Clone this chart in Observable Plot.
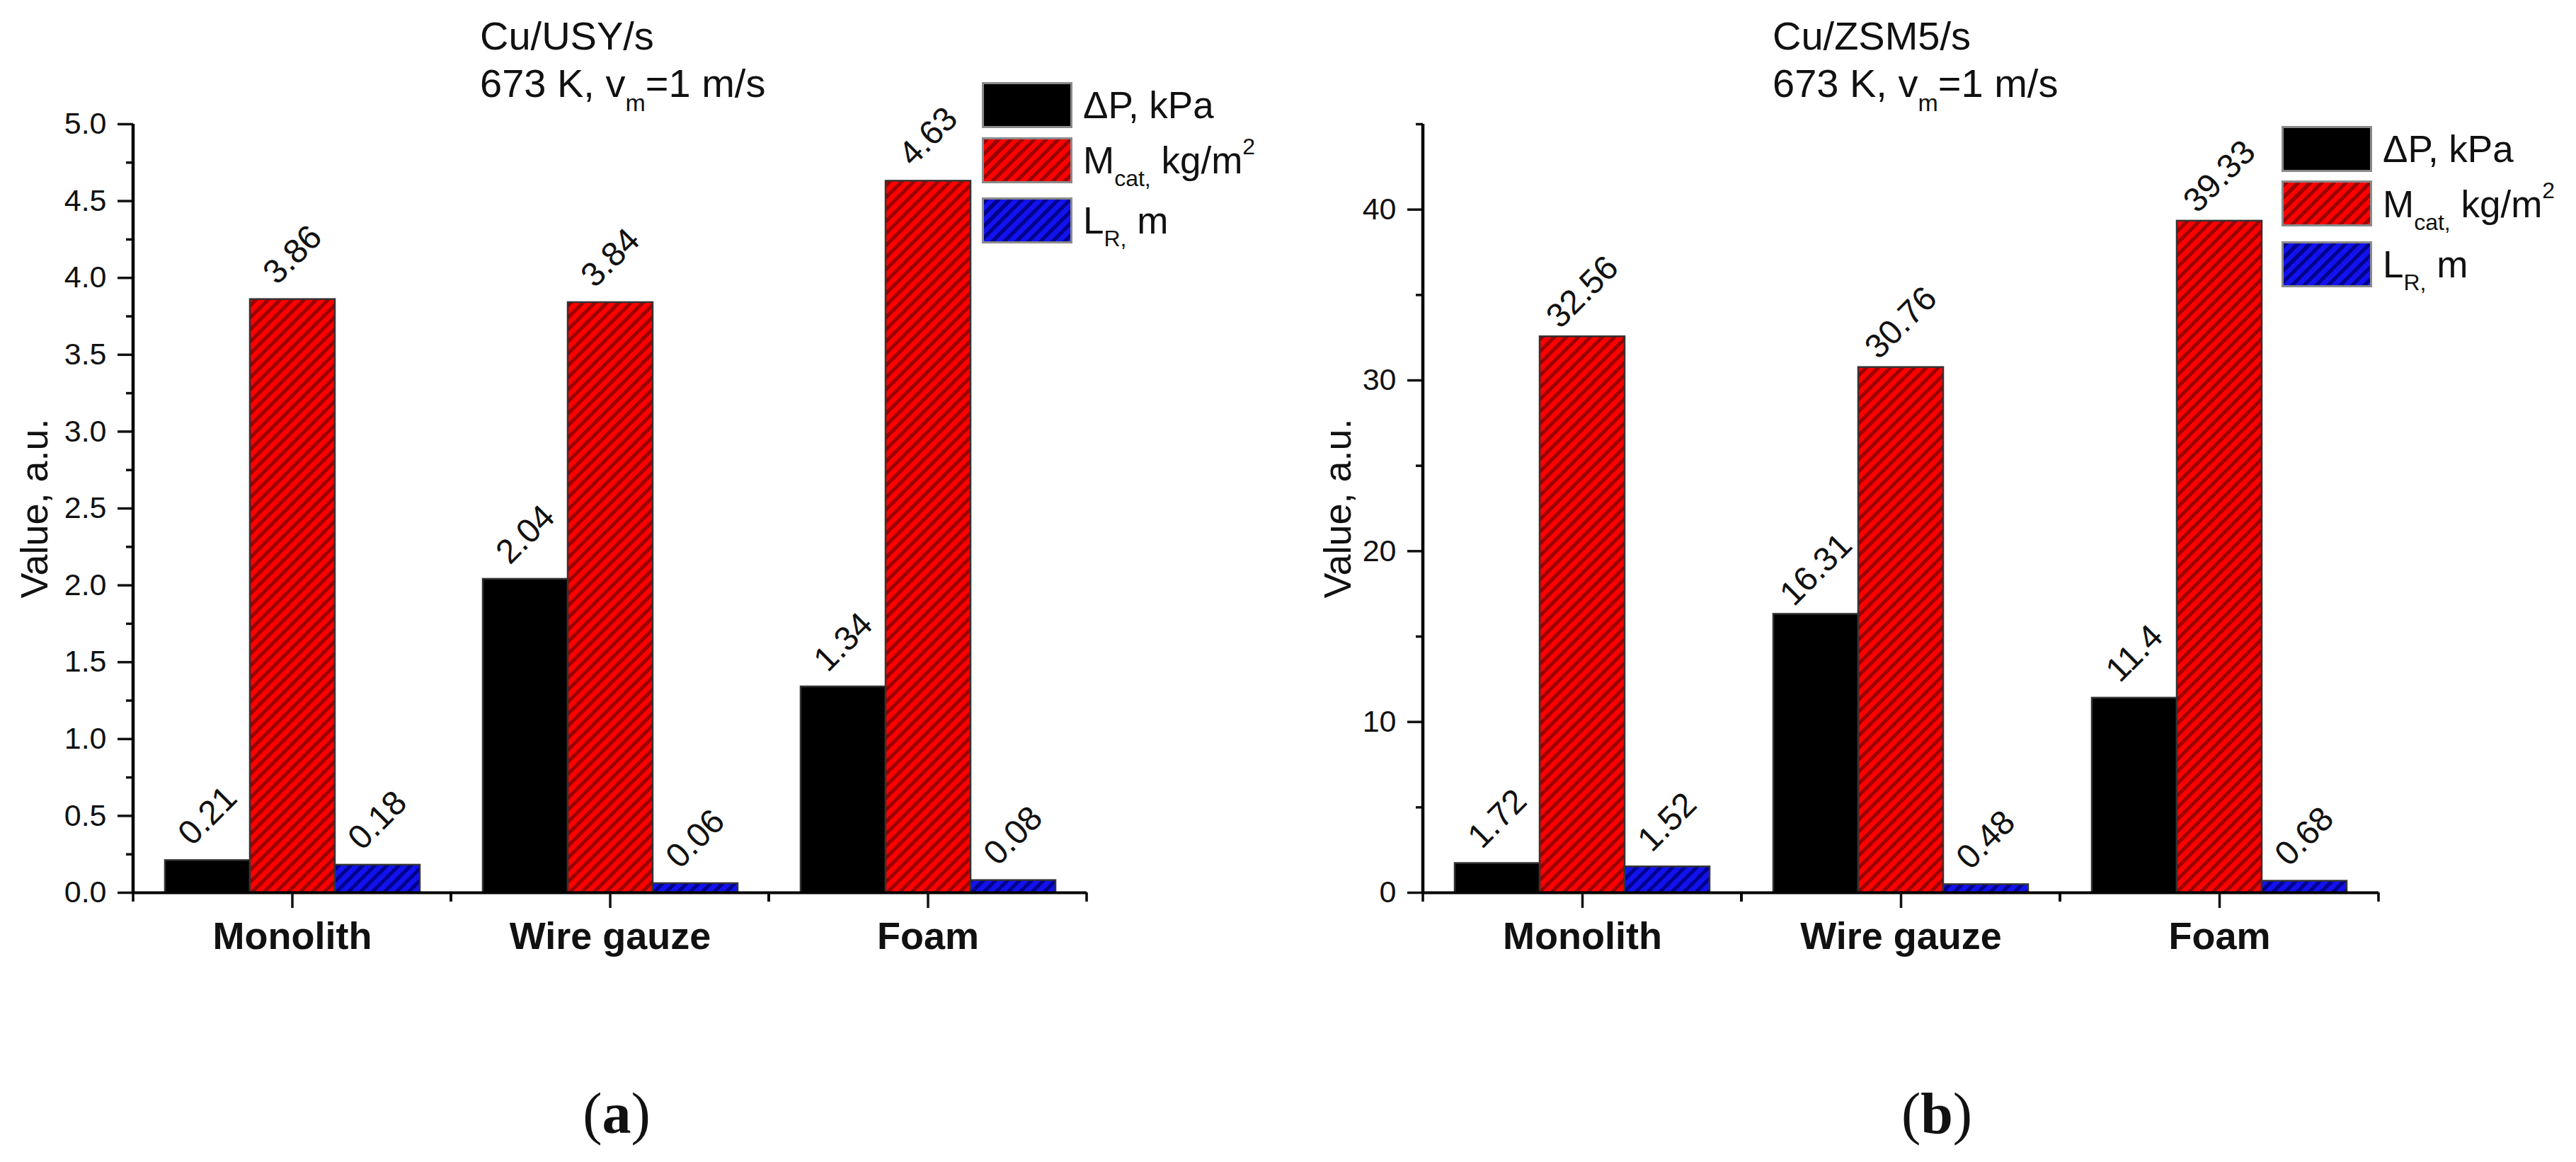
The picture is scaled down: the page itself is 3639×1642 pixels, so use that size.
<!DOCTYPE html>
<html>
<head>
<meta charset="utf-8">
<script src="https://cdn.jsdelivr.net/npm/d3@7"></script>
<script src="https://cdn.jsdelivr.net/npm/@observablehq/plot@0.6"></script>
<style>
  html, body { margin: 0; padding: 0; background: #fff; }
  #page { position: relative; width: 3639px; height: 1642px; overflow: hidden; background: #fff;
          font-family: "Liberation Sans", Arial, sans-serif; color: #111; }
  .abs { position: absolute; white-space: nowrap; line-height: 1; }
  .chartbox { position: absolute; top: 0; }
  .lo { position: relative; vertical-align: baseline; }
  .sw { position: absolute; box-sizing: border-box; border: 3px solid #8a8a8a; }
  .cap { font-family: "Liberation Serif", "Times New Roman", serif; text-align: center; width: 400px; }
</style>
</head>
<body>
<div id="page"></div>
<script>
// ---------------- data ----------------
const categories = ["Monolith", "Wire gauze", "Foam"];
const seriesKeys = ["dP", "Mcat", "LR"];
const yLabel = "Value, a.u.";

// panel (a) Cu/USY/s
const usyDeltaP = [0.21, 2.04, 1.34];
const usyMcat   = [3.86, 3.84, 4.63];
const usyLR     = [0.18, 0.06, 0.08];
const usyTicks  = [0, 0.5, 1.0, 1.5, 2.0, 2.5, 3.0, 3.5, 4.0, 4.5, 5.0];
const usyMinor  = [0.25, 0.75, 1.25, 1.75, 2.25, 2.75, 3.25, 3.75, 4.25, 4.75];

// panel (b) Cu/ZSM5/s
const zsmDeltaP = [1.72, 16.31, 11.4];
const zsmMcat   = [32.56, 30.76, 39.33];
const zsmLR     = [1.52, 0.48, 0.68];
const zsmTicks  = [0, 10, 20, 30, 40];
const zsmMinor  = [5, 15, 25, 35, 45];

// texts
const titlesA = ["Cu/USY/s", "673 K, v<span class='lo' style='font-size:34px;top:20px'>m</span>=1 m/s"];
const titlesB = ["Cu/ZSM5/s", "673 K, v<span class='lo' style='font-size:34px;top:20px'>m</span>=1 m/s"];
const legendLabels = [
  "ΔP, kPa",
  "M<span class='lo' style='font-size:32px;top:18px'>cat,</span> kg/m<span class='lo' style='font-size:32px;top:-27px'>2</span>",
  "L<span class='lo' style='font-size:32px;top:18px'>R,</span> m"
];
const swatchFills = [
  "#000",
  "repeating-linear-gradient(135deg, #9a0000 0 5px, #ff0000 5px 12px)",
  "repeating-linear-gradient(135deg, #00008a 0 5px, #1212ee 5px 12px)"
];
const captions = ["a", "b"];

// ---------------- drawing ----------------
const page = document.getElementById("page");

function makeChart(cfg) {
  const rows = [];
  categories.forEach((c, i) => seriesKeys.forEach((s, j) => rows.push({cat: c, series: s, value: cfg.values[j][i]})));
  const id = cfg.id;
  const chart = Plot.plot({
    width: cfg.width,
    height: 1642,
    marginLeft: cfg.marginLeft,
    marginRight: cfg.marginRight,
    marginTop: 175,
    marginBottom: 381,
    style: {fontFamily: "Liberation Sans, Arial, sans-serif", fontSize: "43px", color: "#111", background: "transparent", overflow: "visible"},
    fx: {domain: categories, padding: 0},
    x: {domain: seriesKeys, paddingInner: 0, paddingOuter: 0.37, axis: null},
    y: {domain: cfg.domain},
    color: {domain: seriesKeys, range: ["#000000", `url(#${id}-red)`, `url(#${id}-blue)`]},
    marks: [
      Plot.barY(rows, {fx: "cat", x: "series", y: "value", fill: "series", stroke: "#333", strokeWidth: 2.5}),
      Plot.ruleY([0], {stroke: "#000", strokeWidth: 4}),
      Plot.axisY({ticks: cfg.minor, tickSize: 10, fill: "none", strokeWidth: 3.5, label: null}),
      Plot.axisY({ticks: cfg.ticks, tickSize: 22, tickPadding: 16, tickFormat: cfg.format, fontSize: 43,
                  strokeWidth: 3.5, label: yLabel, labelAnchor: "center", labelOffset: cfg.labelOffset, labelArrow: "none"}),
      Plot.axisFx({anchor: "bottom", tickSize: 22, tickPadding: 19, fontSize: 54, fontWeight: "bold", strokeWidth: 3.5, label: null}),
      Plot.text(rows, {fx: "cat", x: "series", y: "value", text: d => String(d.value), rotate: -45, dy: -63, fontSize: 48, fill: "#111"})
    ]
  });
  const svg = chart.tagName.toLowerCase() === "svg" ? chart : chart.querySelector("svg");
  const sel = d3.select(svg);
  // y-axis label font size
  sel.selectAll("text").filter(function () { return this.textContent === yLabel; }).attr("font-size", 54);
  // hatch patterns
  const defs = sel.insert("defs", ":first-child");
  function hatch(name, base, line) {
    const p = defs.append("pattern").attr("id", name).attr("patternUnits", "userSpaceOnUse")
      .attr("width", 12).attr("height", 12).attr("patternTransform", "rotate(45)");
    p.append("rect").attr("width", 12).attr("height", 12).attr("fill", base);
    p.append("rect").attr("width", 5).attr("height", 12).attr("fill", line);
  }
  hatch(`${id}-red`, "#ff0000", "#9a0000");
  hatch(`${id}-blue`, "#1212ee", "#00008a");
  // y-axis line and category-boundary ticks, from the plot's own scales
  const fxS = chart.scale("fx"), yS = chart.scale("y");
  const base = yS.apply(0), top = yS.apply(cfg.domain[1]);
  const g = sel.append("g").attr("stroke", "#000").attr("stroke-linecap", "butt");
  const left = fxS.apply(categories[0]);
  g.append("line").attr("x1", left).attr("x2", left).attr("y1", top).attr("y2", base + 2).attr("stroke-width", 4.5);
  categories.forEach(c => {
    const a = fxS.apply(c);
    [a, a + fxS.bandwidth].forEach(x => g.append("line").attr("x1", x).attr("x2", x)
      .attr("y1", base).attr("y2", base + 13).attr("stroke-width", 3.5));
  });

  const box = document.createElement("div");
  box.className = "chartbox";
  box.style.left = cfg.left + "px";
  box.appendChild(chart);
  page.appendChild(box);

  // titles
  cfg.titles.forEach((t, i) => {
    const d = document.createElement("div");
    d.className = "abs";
    d.style.fontSize = "56px";
    d.style.left = cfg.titleX + "px";
    d.style.top = (cfg.titleBaselines[i] - 0.8465 * 56) + "px";
    d.innerHTML = t;
    page.appendChild(d);
  });
  // legend
  legendLabels.forEach((lab, i) => {
    const s = document.createElement("div");
    s.className = "sw";
    s.style.left = cfg.legendX + "px";
    s.style.top = cfg.swatchTops[i] + "px";
    s.style.width = "128px";
    s.style.height = "65px";
    s.style.background = swatchFills[i];
    page.appendChild(s);
    const t = document.createElement("div");
    t.className = "abs";
    t.style.fontSize = "53px";
    t.style.left = (cfg.legendX + 143) + "px";
    t.style.top = (cfg.legendBaselines[i] - 0.8465 * 53) + "px";
    t.innerHTML = lab;
    page.appendChild(t);
  });
  // caption
  const cap = document.createElement("div");
  cap.className = "abs cap";
  cap.style.fontSize = "82px";
  cap.style.left = (cfg.captionX - 200) + "px";
  cap.style.top = (1602 - 0.8375 * 82) + "px";
  cap.innerHTML = "(<b>" + cfg.caption + "</b>)";
  page.appendChild(cap);
}

makeChart({
  id: "pa", left: 0, width: 1820, marginLeft: 187, marginRight: 284,
  values: [usyDeltaP, usyMcat, usyLR], domain: [0, 5], ticks: usyTicks, minor: usyMinor,
  format: d3.format(".1f"), labelOffset: 160,
  titles: titlesA, titleX: 678, titleBaselines: [70, 137],
  legendX: 1387, swatchTops: [116, 194, 279], legendBaselines: [167, 245, 330],
  caption: captions[0], captionX: 871
});
makeChart({
  id: "pb", left: 1820, width: 1819, marginLeft: 190, marginRight: 279,
  values: [zsmDeltaP, zsmMcat, zsmLR], domain: [0, 45], ticks: zsmTicks, minor: zsmMinor,
  format: d3.format("d"), labelOffset: 141,
  titles: titlesB, titleX: 2504, titleBaselines: [70, 137],
  legendX: 3223, swatchTops: [178, 255, 341], legendBaselines: [229, 307, 392],
  caption: captions[1], captionX: 2736
});
</script>
</body>
</html>
